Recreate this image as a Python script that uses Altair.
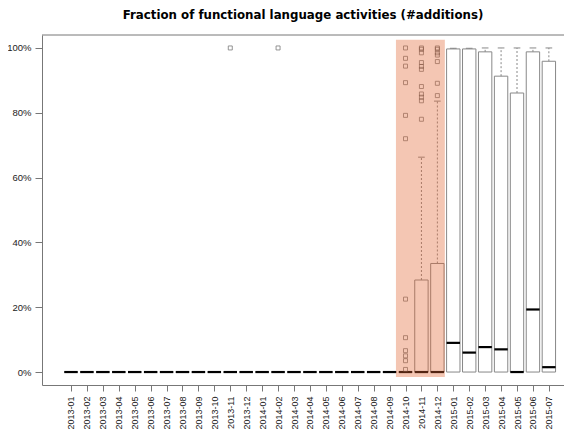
import altair as alt
import pandas as pd

months = ["2013-01","2013-02","2013-03","2013-04","2013-05","2013-06","2013-07","2013-08",
          "2013-09","2013-10","2013-11","2013-12","2014-01","2014-02","2014-03","2014-04",
          "2014-05","2014-06","2014-07","2014-08","2014-09","2014-10","2014-11","2014-12",
          "2015-01","2015-02","2015-03","2015-04","2015-05","2015-06","2015-07"]
q1 =     [0.0]*31
median = [0.0]*24 + [0.090, 0.060, 0.077, 0.070, 0.000, 0.193, 0.015]
q3 =     [0.0]*22 + [0.284, 0.335, 0.997, 0.997, 0.988, 0.913, 0.861, 0.988, 0.959]
whisk_hi = [0.0]*22 + [0.663, 0.836, 0.999, 0.999, 1.0, 1.0, 1.0, 1.0, 1.0]

outlier_month = (["2013-11", "2014-02"] +
                 ["2014-10"]*12 + ["2014-11"]*11 + ["2014-12"]*7)
outlier_value = ([1.0, 1.0] +
                 [1.0, 0.968, 0.944, 0.893, 0.792, 0.720, 0.225, 0.106, 0.066, 0.050, 0.035, 0.008] +
                 [1.0, 0.996, 0.985, 0.955, 0.943, 0.934, 0.881, 0.858, 0.848, 0.837, 0.780] +
                 [1.0, 0.996, 0.985, 0.978, 0.958, 0.891, 0.853])

highlight_first = "2014-10"
highlight_last = "2014-12"
title = "Fraction of functional language activities (#additions)"

idx = {m: i + 1 for i, m in enumerate(months)}
boxes = pd.DataFrame({"month": months, "i": [idx[m] for m in months],
                      "q1": q1, "med": median, "q3": q3, "hi": whisk_hi})
outl = pd.DataFrame({"month": outlier_month, "i": [idx[m] for m in outlier_month],
                     "v": outlier_value})
hl = pd.DataFrame({"a": [idx[highlight_first] - 0.6], "b": [idx[highlight_last] + 0.47],
                   "y0": [-0.015], "y1": [1.025]})

W, H = 522, 350
font = "Liberation Sans"
label_expr = "[" + ",".join("'%s'" % m for m in months) + "][datum.value - 1]"

xs = alt.Scale(domain=[-0.82, 31.95], nice=False, zero=False)
ys = alt.Scale(domain=[-0.04, 1.04], nice=False, zero=False)

xaxis = alt.Axis(values=list(range(1, 32)), labelExpr=label_expr, labelAngle=270,
                 title=None, grid=False, tickSize=6, labelPadding=5, labelFontSize=9,
                 labelFont=font, labelColor="#222", domainColor="#777", tickColor="#777",
                 labelOverlap=False, labelFlush=False, labelBound=False)
yaxis = alt.Axis(values=[0, 0.2, 0.4, 0.6, 0.8, 1.0], format=".0%", title=None, grid=False,
                 tickSize=7, labelPadding=4, labelFontSize=9.5, labelFont=font,
                 labelColor="#222", domainColor="#777", tickColor="#777")

base = alt.Chart(boxes).transform_calculate(
    xl="datum.i - 0.42", xr="datum.i + 0.42", cl="datum.i - 0.21", cr="datum.i + 0.21")

rect = base.mark_rect(fill="white", stroke="#888", strokeWidth=1).encode(
    x=alt.X("xl:Q", scale=xs, axis=xaxis), x2="xr:Q",
    y=alt.Y("q1:Q", scale=ys, axis=yaxis), y2="q3:Q")

whisk = base.transform_filter("datum.hi > datum.q3").mark_rule(
    color="#888", strokeDash=[2, 2], strokeWidth=1).encode(
    x=alt.X("i:Q", scale=xs, axis=xaxis), y=alt.Y("q3:Q", scale=ys, axis=yaxis), y2="hi:Q")

cap = base.transform_filter("datum.hi > datum.q3").mark_rule(
    color="#888", strokeWidth=1).encode(
    x=alt.X("cl:Q", scale=xs, axis=xaxis), x2="cr:Q", y=alt.Y("hi:Q", scale=ys, axis=yaxis))

med = base.mark_rule(color="black", strokeWidth=2.2).encode(
    x=alt.X("xl:Q", scale=xs, axis=xaxis), x2="xr:Q", y=alt.Y("med:Q", scale=ys, axis=yaxis))

pts = alt.Chart(outl).mark_point(shape="square", size=16, filled=False,
                                 color="#444", strokeWidth=0.8).encode(
    x=alt.X("i:Q", scale=xs, axis=xaxis), y=alt.Y("v:Q", scale=ys, axis=yaxis))

hlr = alt.Chart(hl).mark_rect(color="#E16432", opacity=0.37).encode(
    x=alt.X("a:Q", scale=xs, axis=xaxis), x2="b:Q",
    y=alt.Y("y0:Q", scale=ys, axis=yaxis), y2="y1:Q")

top = alt.Chart(pd.DataFrame({"k": [0]})).mark_rule(color="#777", strokeWidth=1).encode(
    x=alt.value(0), x2=alt.value(W), y=alt.value(0))

chart = alt.layer(rect, whisk, cap, med, pts, hlr, top).properties(
    width=W, height=H,
    title=alt.TitleParams(title, fontSize=11.8, fontWeight="bold", font="DejaVu Sans",
                          anchor="middle", offset=13, color="black"),
    autosize=alt.AutoSizeParams(type="none"),
    padding={"left": 34, "top": 27, "right": 0, "bottom": 49},
).configure_view(stroke=None).configure_axisX(labelOverlap=False)

chart.save("out.html", embed_options={"renderer": "svg", "actions": False})
